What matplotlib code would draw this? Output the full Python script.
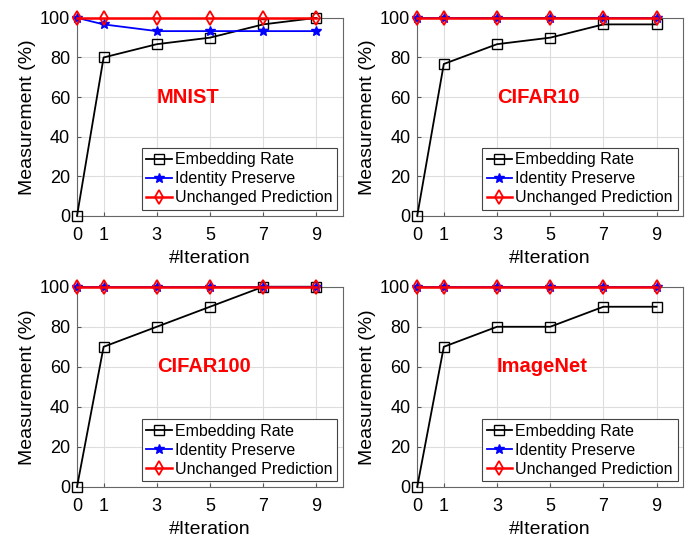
import matplotlib
matplotlib.use('Agg')
import matplotlib.pyplot as plt

iterations = [0, 1, 3, 5, 7, 9]
datasets = ['MNIST', 'CIFAR10', 'CIFAR100', 'ImageNet']

embedding_rate = {
    'MNIST': [0, 80, 86.7, 90, 96.7, 100],
    'CIFAR10': [0, 76.7, 86.7, 90, 96.7, 96.7],
    'CIFAR100': [0, 70, 80, 90, 100, 100],
    'ImageNet': [0, 70, 80, 80, 90, 90],
}
identity_preserve = {
    'MNIST': [100, 96.7, 93.3, 93.3, 93.3, 93.3],
    'CIFAR10': [100, 100, 100, 100, 100, 100],
    'CIFAR100': [100, 100, 100, 100, 100, 100],
    'ImageNet': [100, 100, 100, 100, 100, 100],
}
unchanged_prediction = {
    'MNIST': [100, 100, 100, 100, 100, 100],
    'CIFAR10': [100, 100, 100, 100, 100, 100],
    'CIFAR100': [100, 100, 100, 100, 100, 100],
    'ImageNet': [100, 100, 100, 100, 100, 100],
}

plt.rcParams['font.family'] = ['Liberation Sans', 'DejaVu Sans']

fig = plt.figure(figsize=(7, 5.41), dpi=100)
# axes boxes [left, bottom, width, height] in figure fractions
boxes = [
    [0.110, 0.601, 0.380, 0.366],
    [0.596, 0.601, 0.380, 0.366],
    [0.110, 0.100, 0.380, 0.370],
    [0.596, 0.100, 0.380, 0.370],
]

for name, box in zip(datasets, boxes):
    ax = fig.add_axes(box)
    ax.plot(iterations, embedding_rate[name], color='black', marker='s',
            markersize=6.5, markerfacecolor='none', linewidth=1.3,
            label='Embedding Rate', clip_on=False, zorder=3)
    ax.plot(iterations, identity_preserve[name], color='blue', marker='*',
            markersize=7, linewidth=1.3, label='Identity Preserve',
            clip_on=False, zorder=4)
    ax.plot(iterations, unchanged_prediction[name], color='red', marker='d',
            markersize=7.5, markerfacecolor='none', markeredgewidth=1.3,
            linewidth=1.8, label='Unchanged Prediction',
            clip_on=False, zorder=5)

    ax.set_xlim(0, 10)
    ax.set_ylim(0, 100)
    ax.set_xticks(iterations)
    ax.set_yticks([0, 20, 40, 60, 80, 100])
    ax.tick_params(labelsize=13, direction='in', length=3, color='#555',
                   pad=5)
    ax.tick_params(axis='x', pad=8)
    ax.set_xlabel('#Iteration', fontsize=14, labelpad=4)
    ax.set_ylabel('Measurement (%)', fontsize=14, labelpad=3)
    ax.grid(True, color='#dddddd', linewidth=0.8)
    ax.set_axisbelow(True)
    for s in ax.spines.values():
        s.set_color('#666666')
        s.set_linewidth(0.8)

    ax.text(3, 60, name, color='red', fontsize=14.5, fontweight='bold',
            ha='left', va='center')
    leg = ax.legend(loc='lower right', fontsize=11.5, handlelength=1.6,
                    handletextpad=0.2, borderpad=0.3, labelspacing=0.25,
                    fancybox=False, framealpha=1, borderaxespad=0.35)
    leg.get_frame().set_edgecolor('#444444')
    leg.get_frame().set_linewidth(0.8)

fig.savefig('out.png', dpi=100)
